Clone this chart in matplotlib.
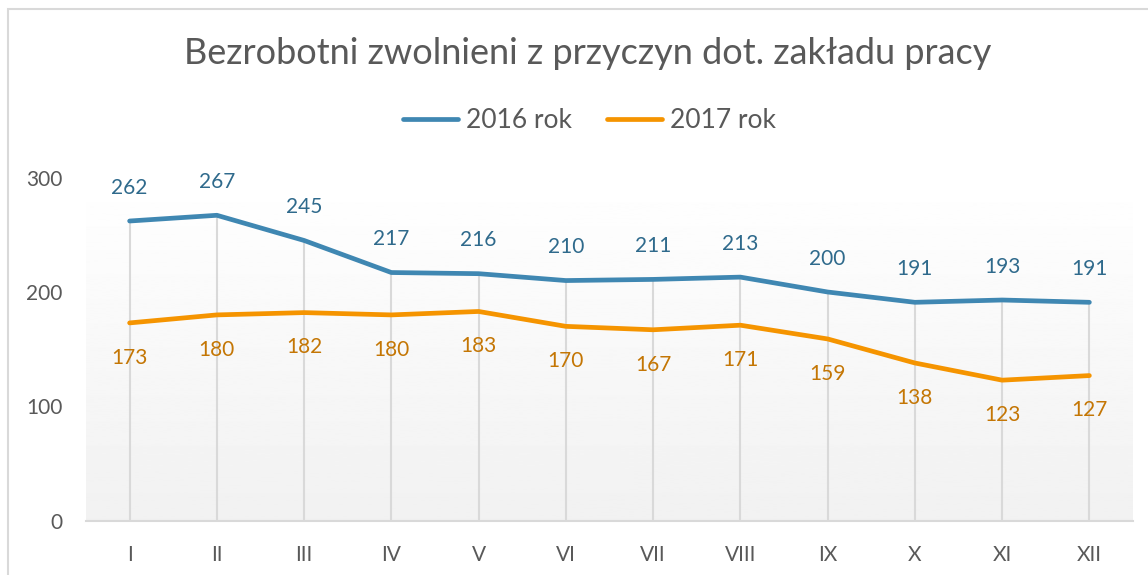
import matplotlib.pyplot as plt
import numpy as np
from matplotlib.patches import Rectangle

plt.rcParams['font.family'] = ['Lato', 'DejaVu Sans']

# data
months = ['I', 'II', 'III', 'IV', 'V', 'VI', 'VII', 'VIII', 'IX', 'X', 'XI', 'XII']
rok_2016 = [262, 267, 245, 217, 216, 210, 211, 213, 200, 191, 193, 191]
rok_2017 = [173, 180, 182, 180, 183, 170, 167, 171, 159, 138, 123, 127]

blue = '#3f87b2'
orange = '#f59400'
blue_txt = '#2f6a8c'
orange_txt = '#c47604'
gray_txt = '#595959'

fig = plt.figure(figsize=(11.48, 5.75), dpi=100)
ax = fig.add_axes([86 / 1148, 1 - 521 / 575, (1133 - 86) / 1148, (521 - 177.5) / 575])

x = np.arange(len(months))
ax.set_xlim(-0.5, len(months) - 0.5)
ax.set_ylim(0, 300)

# gradient background of plot area
grad = np.linspace(1.0, 0.945, 256).reshape(-1, 1)
ax.imshow(grad, extent=[-0.5, len(months) - 0.5, 0, 300], aspect='auto',
          cmap='gray', vmin=0, vmax=1, zorder=0)

# drop lines
top = np.maximum(rok_2016, rok_2017)
ax.vlines(x, 0, top, color='#d9d9d9', lw=1.5, zorder=1)

ax.plot(x, rok_2016, color=blue, lw=3.4, solid_capstyle='round', label='2016 rok', zorder=3)
ax.plot(x, rok_2017, color=orange, lw=3.4, solid_capstyle='round', label='2017 rok', zorder=3)

for xi, v in zip(x, rok_2016):
    ax.annotate(str(v), (xi, v), xytext=(0, 24), textcoords='offset points',
                ha='center', va='center', fontsize=15, color=blue_txt, annotation_clip=False)
for xi, v in zip(x, rok_2017):
    ax.annotate(str(v), (xi, v), xytext=(0, -25), textcoords='offset points',
                ha='center', va='center', fontsize=15, color=orange_txt, annotation_clip=False)

for s in ['top', 'right', 'left']:
    ax.spines[s].set_visible(False)
ax.spines['bottom'].set_color('#d9d9d9')
ax.spines['bottom'].set_linewidth(1.5)
ax.spines['bottom'].set_zorder(2)

ax.set_xticks(x)
ax.set_xticklabels(months)
ax.set_yticks([0, 100, 200, 300])
ax.tick_params(axis='both', length=0, labelsize=15, labelcolor=gray_txt)
ax.tick_params(axis='x', pad=17)
ax.tick_params(axis='y', pad=17)

fig.text(0.512, 1 - 54 / 575, 'Bezrobotni zwolnieni z przyczyn dot. zakładu pracy',
         ha='center', va='center', fontsize=26, color=gray_txt)

fig.legend(loc='center', bbox_to_anchor=(0.5135, 1 - 121 / 575), ncol=2, frameon=False,
           fontsize=19, labelcolor=gray_txt, handlelength=2.1, handletextpad=0.3,
           columnspacing=1.3)

# chart border
fig.patches.append(Rectangle((8 / 1148, -0.1), 1.2, 1 - 9 / 575 + 0.1, transform=fig.transFigure,
                             fill=False, edgecolor='#d9d9d9', lw=1.5))

fig.savefig('out.png', dpi=100)
